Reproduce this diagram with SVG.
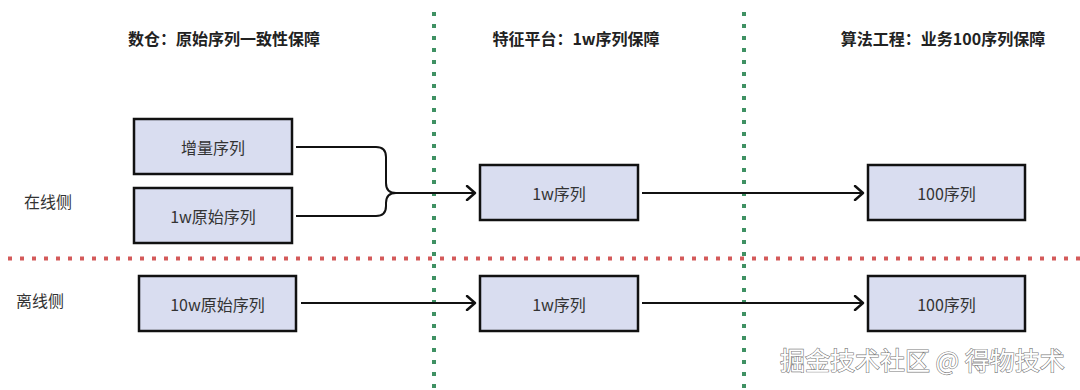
<svg xmlns="http://www.w3.org/2000/svg" width="1080" height="390" viewBox="0 0 1080 390">
<defs>
<marker id="arr" viewBox="0 0 12 16" refX="10" refY="8" markerWidth="12" markerHeight="16" markerUnits="userSpaceOnUse" orient="auto">
<path d="M2,1 L10,8 L2,15" fill="none" stroke="#111" stroke-width="2.4" stroke-linecap="round" stroke-linejoin="round"/>
</marker>
<style>
.box{fill:#d9ddf0;stroke:#111;stroke-width:2.5}
.lbl{font-family:"Noto Sans CJK SC","Noto Sans",sans-serif;font-size:16px;fill:#333;text-anchor:middle;dominant-baseline:central}
.hdr{font-family:"Noto Sans CJK SC","Noto Sans",sans-serif;font-size:16px;font-weight:bold;fill:#222;text-anchor:middle;dominant-baseline:central}
.side{font-family:"Noto Sans CJK SC","Noto Sans",sans-serif;font-size:16px;fill:#333;dominant-baseline:central}
.conn{fill:none;stroke:#111;stroke-width:2}
.gdot{stroke:#3f9163;stroke-width:4;stroke-dasharray:4 8}
.rdot{stroke:#d45a5a;stroke-width:4;stroke-dasharray:4 8}
.wm{font-family:"Noto Sans CJK SC","Noto Sans",sans-serif;font-size:25px;fill:#fff;stroke:#7a7a7a;stroke-width:1.2;paint-order:stroke}
</style>
</defs>
<rect width="1080" height="390" fill="#fff"/>

<g id="separators">
<line class="gdot" x1="434" y1="12" x2="434" y2="390"/>
<line class="gdot" x1="744" y1="12" x2="744" y2="390"/>
<line class="rdot" x1="8" y1="258.5" x2="1080" y2="258.5"/>
</g>

<g id="headers">
<text class="hdr" x="224" y="38">数仓：原始序列一致性保障</text>
<text class="hdr" x="576" y="38">特征平台：1w序列保障</text>
<text class="hdr" x="943" y="38">算法工程：业务100序列保障</text>
</g>

<g id="side-labels">
<text class="side" x="24" y="201">在线侧</text>
<text class="side" x="16" y="300">离线侧</text>
</g>

<g id="connectors">
<path class="conn" d="M296,147 H376 Q386,147 386,157 V183 Q386,193 396,193"/>
<path class="conn" d="M296,216 H376 Q386,216 386,206 V203 Q386,193 396,193 H475" marker-end="url(#arr)"/>
<path class="conn" d="M642,193 H863" marker-end="url(#arr)"/>
<path class="conn" d="M301,303 H475" marker-end="url(#arr)"/>
<path class="conn" d="M642,303 H863" marker-end="url(#arr)"/>
</g>

<g id="node-incr">
<rect class="box" x="134" y="119" width="158" height="55"/>
<text class="lbl" x="213" y="146.5">增量序列</text>
</g>
<g id="node-1w-raw">
<rect class="box" x="134" y="188" width="158" height="55"/>
<text class="lbl" x="213" y="215.5">1w原始序列</text>
</g>
<g id="node-1w-online">
<rect class="box" x="480" y="165" width="158" height="55"/>
<text class="lbl" x="559" y="192.5">1w序列</text>
</g>
<g id="node-100-online">
<rect class="box" x="868" y="165" width="157" height="55"/>
<text class="lbl" x="946.5" y="192.5">100序列</text>
</g>
<g id="node-10w-raw">
<rect class="box" x="139" y="276" width="157" height="55"/>
<text class="lbl" x="217.5" y="303.5">10w原始序列</text>
</g>
<g id="node-1w-offline">
<rect class="box" x="480" y="276" width="158" height="55"/>
<text class="lbl" x="559" y="303.5">1w序列</text>
</g>
<g id="node-100-offline">
<rect class="box" x="868" y="276" width="157" height="55"/>
<text class="lbl" x="946.5" y="303.5">100序列</text>
</g>

<text class="wm" x="780" y="370">掘金技术社区 @ 得物技术</text>
</svg>
